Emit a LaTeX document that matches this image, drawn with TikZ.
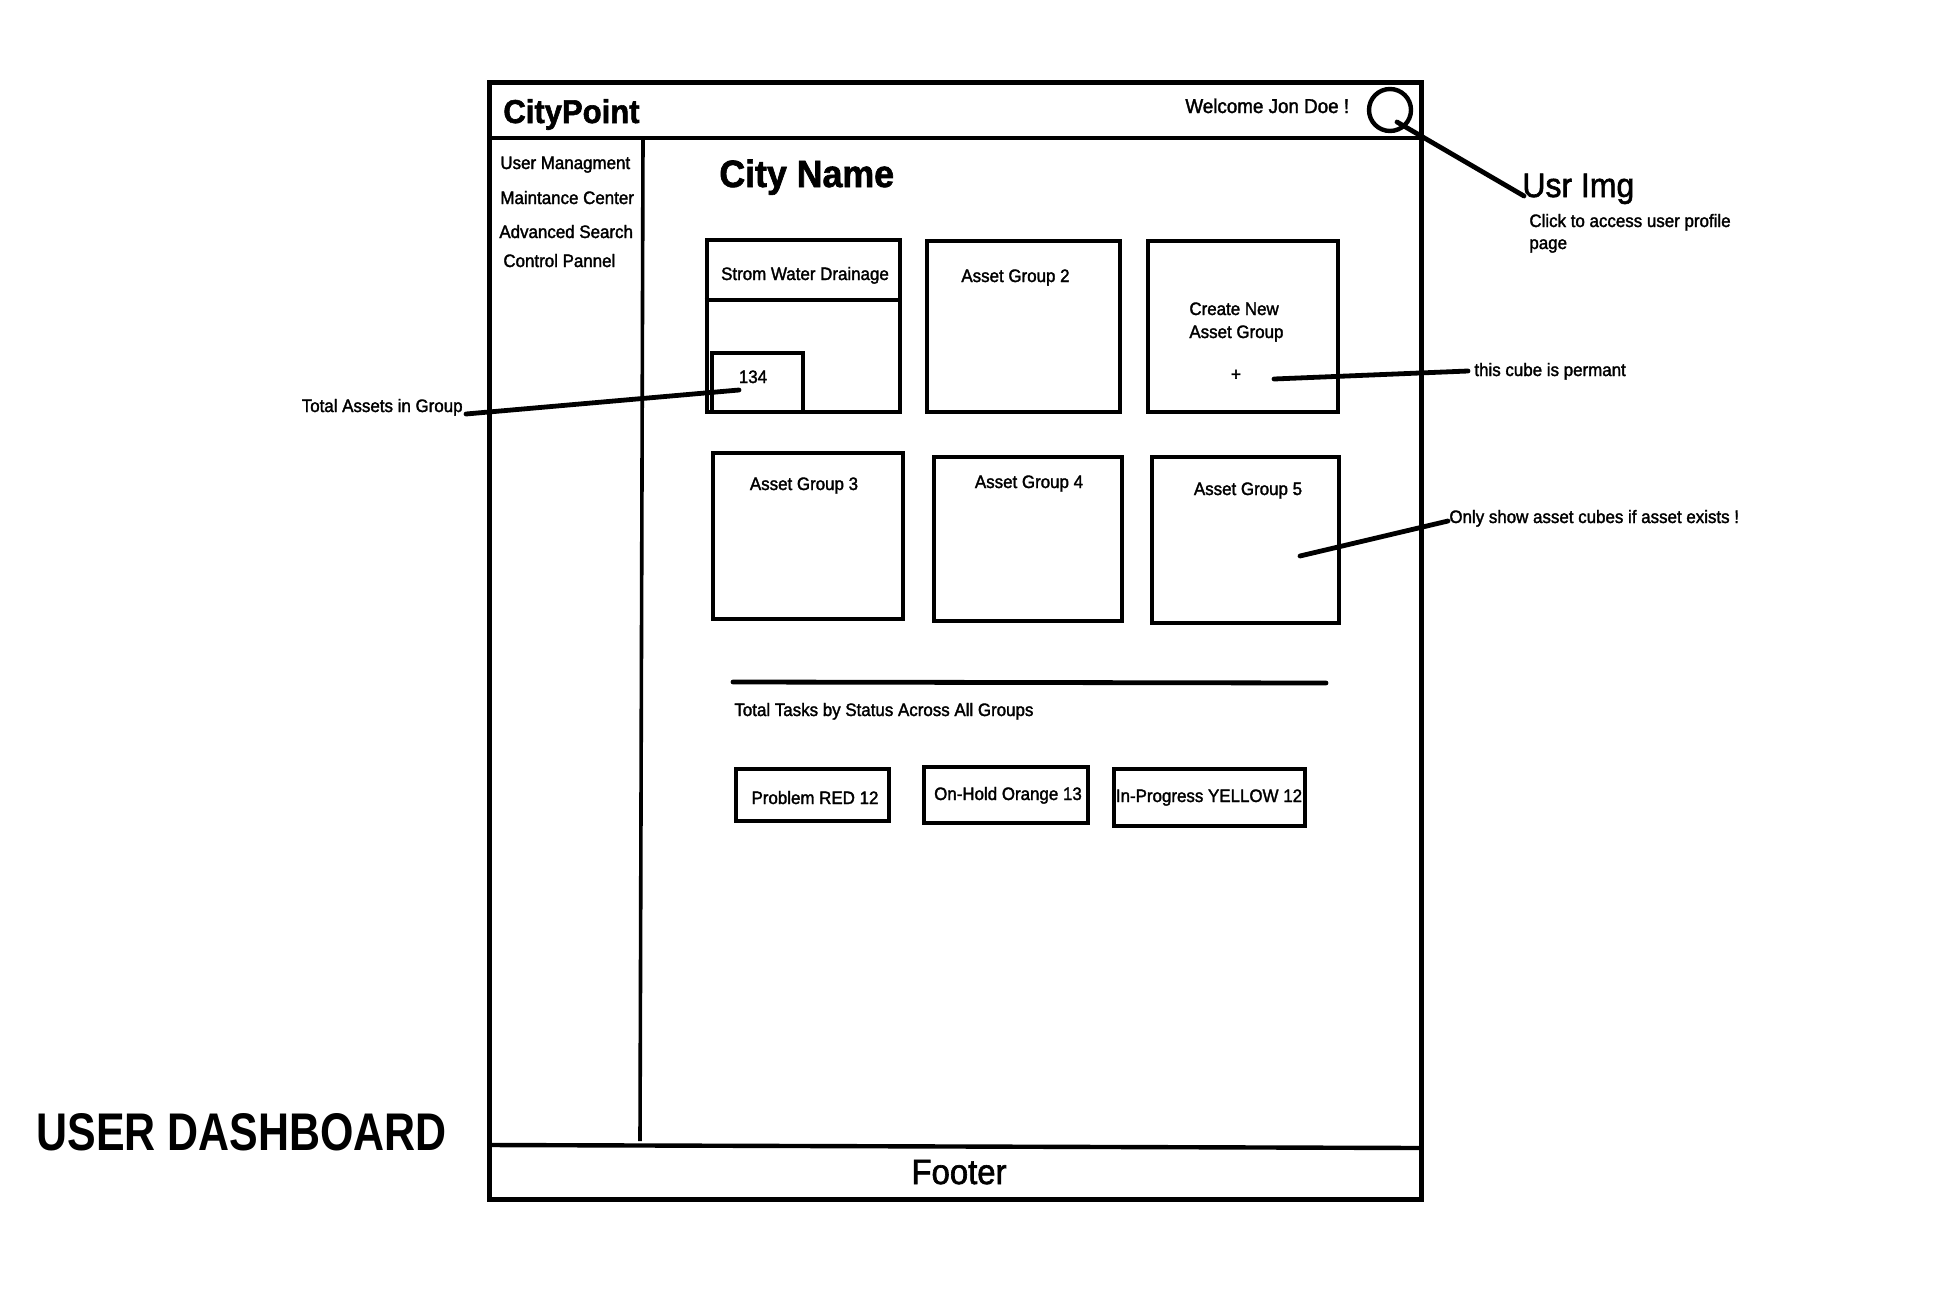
\documentclass[tikz,border=0pt]{standalone}
\usepackage{fontspec}
\setmainfont{Liberation Sans}[FakeStretch=0.94, FakeBold=1.8]
\newfontfamily\dashfont{Liberation Sans}[FakeStretch=0.81]
\usetikzlibrary{fit}
\begin{document}
\begin{tikzpicture}[x=0.5pt,y=-0.5pt,
  box/.style={draw, line width=2.3pt, inner sep=0pt},
  conn/.style={line width=2.4pt, line cap=round},
  txt/.style={inner sep=0pt, font=\fontsize{9}{11}\selectfont},
  lefttxt/.style={txt, anchor=base west},
  midtxt/.style={txt, anchor=base},
]
\useasboundingbox (0,0) rectangle (1944,1296);

% ---------- page frame ----------
\node[box, line width=2.5pt, fit={(489,82) (1421,1199)}] (frame) {};
\draw[line width=2.4pt] (489,138) -- (1421,138);
\draw[line width=1.8pt] (643,138) -- (640,1141);
\draw[line width=2.2pt] (489,1145) -- (1421,1148);

% ---------- header ----------
\node[inner sep=0pt, anchor=base west, font=\bfseries\fontsize{16.5}{18}\selectfont] (brand) at (503,123) {CityPoint};
\node[inner sep=0pt, anchor=base west, font=\fontsize{10}{12}\selectfont] (welcome) at (1185,113) {Welcome Jon Doe !};
\node[circle, draw, line width=2.2pt, minimum size=21pt, inner sep=0pt] (usr) at (1390,110) {};

% ---------- sidebar ----------
\node[lefttxt] (m1) at (500,169) {User Managment};
\node[lefttxt] (m2) at (500,204) {Maintance Center};
\node[lefttxt] (m3) at (499,238) {Advanced Search};
\node[lefttxt] (m4) at (503,267) {Control Pannel};

% ---------- content ----------
\node[inner sep=0pt, anchor=base west, font=\bfseries\fontsize{19}{22}\selectfont] (city) at (719,187) {City Name};

% first row of cubes
\node[box, fit={(707,240) (900,412)}] (g1) {};
\draw[line width=2.3pt] (g1.west |- 0,300) -- (g1.east |- 0,300);
\node[midtxt] (g1t) at (805,280) {Strom Water Drainage};
\node[box, fit={(712,353) (803,412)}] (cnt) {};
\node[midtxt] (cntt) at (753,383) {134};

\node[box, fit={(927,241) (1120,412)}] (g2) {};
\node[lefttxt] (g2t) at (961,282) {Asset Group 2};

\node[box, fit={(1148,241) (1338,412)}] (new) {};
\node[lefttxt] (newt1) at (1189,315) {Create New};
\node[lefttxt] (newt2) at (1189,338) {Asset Group};
\node[txt, anchor=center] (plus) at (1236,375) {+};

% second row of cubes
\node[box, fit={(713,453) (903,619)}] (g3) {};
\node[midtxt] (g3t) at (804,490) {Asset Group 3};
\node[box, fit={(934,457) (1122,621)}] (g4) {};
\node[midtxt] (g4t) at (1029,488) {Asset Group 4};
\node[box, fit={(1152,457) (1339,623)}] (g5) {};
\node[midtxt] (g5t) at (1248,495) {Asset Group 5};

% tasks section
\draw[line width=2.4pt, line cap=round] (733,682) -- (1326,683);
\node[lefttxt] (tasks) at (734,716) {Total Tasks by Status Across All Groups};
\node[box, fit={(736,769) (889,821)}] (s1) {};
\node[midtxt] (s1t) at (815,804) {Problem RED 12};
\node[box, fit={(924,767) (1088,823)}] (s2) {};
\node[midtxt] (s2t) at (1008,800) {On-Hold Orange 13};
\node[box, fit={(1114,769) (1305,826)}] (s3) {};
\node[midtxt] (s3t) at (1209,802) {In-Progress YELLOW 12};

% footer
\node[inner sep=0pt, anchor=base, font=\fontsize{17.5}{20}\selectfont] (footer) at (959,1184) {Footer};

% ---------- annotations ----------
\node[inner sep=0pt, anchor=base west, font=\fontsize{17}{20}\selectfont] (usrimg) at (1522,197) {Usr Img};
\node[lefttxt] (click1) at (1529,227) {Click to access user profile};
\node[lefttxt] (click2) at (1529,249) {page};
\node[lefttxt] (perm) at (1474,376) {this cube is permant};
\node[lefttxt] (only) at (1449,523) {Only show asset cubes if asset exists !};
\node[txt, anchor=base east] (total) at (463,412) {Total Assets in Group};
\node[inner sep=0pt, anchor=base west, font=\dashfont\bfseries\fontsize{26.5}{30}\selectfont] (dash) at (36,1150) {USER DASHBOARD};

\coordinate (usrA) at (1397,122);
\coordinate (usrB) at (1524,196);
\coordinate (totA) at (466,414);
\coordinate (totB) at (739,390);
\coordinate (permA) at (1274,379);
\coordinate (permB) at (1468,371);
\coordinate (onlyA) at (1300,556);
\coordinate (onlyB) at (1448,521);

\draw[conn] (usrA) -- (usrB);
\draw[conn] (totA) -- (totB);
\draw[conn] (permA) -- (permB);
\draw[conn] (onlyA) -- (onlyB);
\end{tikzpicture}
\end{document}
